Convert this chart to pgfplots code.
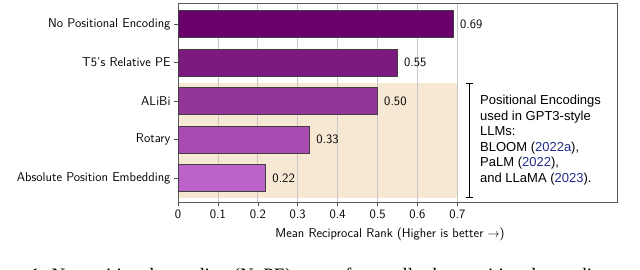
\documentclass[border=0pt]{standalone}
\usepackage{fontspec}
\usepackage{pgfplots}
\pgfplotsset{compat=1.18}
\newfontfamily\helv{Liberation Sans}
\newfontfamily\capfont{Liberation Serif}
\definecolor{c1}{RGB}{106,0,105}
\definecolor{c2}{RGB}{124,26,128}
\definecolor{c3}{RGB}{147,52,153}
\definecolor{c4}{RGB}{168,76,178}
\definecolor{c5}{RGB}{189,98,200}
\definecolor{beige}{RGB}{247,232,212}
\definecolor{citeblue}{RGB}{35,45,140}
\newcommand{\lbl}{\sffamily\fontsize{12.8}{15}\selectfont}
\pgfplotsset{
  mybar/.style={xbar, bar width=27pt, bar shift=0pt, draw=black!75, line width=0.7pt,
    point meta=x,
    nodes near coords={\pgfmathprintnumber[fixed,fixed zerofill,precision=2]{\pgfplotspointmeta}},
    nodes near coords style={font=\lbl, anchor=west, xshift=3pt, black}},
}
\begin{document}
\begin{tikzpicture}
\path (0pt,0pt) rectangle (640pt,270pt);
\begin{axis}[
  at={(178pt,68pt)}, anchor=south west,
  scale only axis, width=439pt, height=199pt,
  xmin=0, xmax=1.1, ymin=-0.62, ymax=4.55,
  ytick={0,1,2,3,4},
  yticklabels={Absolute Position Embedding, Rotary, ALiBi, T5's Relative PE, No Positional Encoding},
  xtick={0,0.1,0.2,0.3,0.4,0.5,0.6,0.7},
  xticklabels={0,0.1,0.2,0.3,0.4,0.5,0.6,0.7},
  tick label style={font=\lbl},
  /pgf/number format/assume math mode=true,
  xmajorgrids, grid style={black!22, line width=0.8pt},
  tick align=outside, major tick length=4pt,
  xtick pos=left, ytick pos=left,
  tick style={black!70, line width=0.6pt},
  axis line style={black!65, line width=0.7pt},
  set layers,
  xlabel={Mean Reciprocal Rank (Higher is better $\rightarrow$)},
  xlabel style={font=\lbl, at={(ticklabel cs:0.483)}, yshift=-3pt},
]
\addplot[fill=beige, draw=none, on layer=axis background, sharp plot, mark=none, forget plot]
  coordinates {(0,-0.52) (0.7,-0.52) (0.7,2.47) (0,2.47)} -- cycle;
\addplot[mybar, fill=c1] coordinates {(0.69,4)};
\addplot[mybar, fill=c2] coordinates {(0.55,3)};
\addplot[mybar, fill=c3] coordinates {(0.50,2)};
\addplot[mybar, fill=c4] coordinates {(0.33,1)};
\addplot[mybar, fill=c5] coordinates {(0.22,0)};
\end{axis}
\draw[line width=0.8pt] (469.3pt,187pt) -- (469.3pt,72.3pt);
\draw[line width=0.8pt] (465.8pt,187pt) -- (472.8pt,187pt);
\draw[line width=0.8pt] (465.8pt,72.3pt) -- (472.8pt,72.3pt);
\node[anchor=north west, inner sep=0pt, align=left, font=\helv\fontsize{13}{15.5}\selectfont] at (480pt,175pt)
  {Positional Encodings\\used in GPT3-style\\LLMs:\\BLOOM (\textcolor{citeblue}{2022a}),\\PaLM (\textcolor{citeblue}{2022}),\\and LLaMA (\textcolor{citeblue}{2023}).};
\begin{pgfinterruptboundingbox}
\node[anchor=base west, inner sep=0pt, font=\capfont\fontsize{19}{23}\selectfont] at (-24pt,-12pt)
  {Figure 1: No positional encoding (NoPE) outperforms all other positional encodings};
\end{pgfinterruptboundingbox}
\end{tikzpicture}
\end{document}
